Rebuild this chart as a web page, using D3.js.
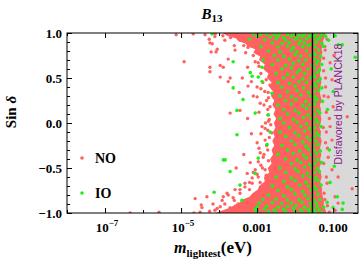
<!DOCTYPE html>
<html>
<head>
<meta charset="utf-8">
<script src="https://cdn.jsdelivr.net/npm/d3@7"></script>
<style>
body{margin:0;background:#fff;}
svg{display:block;}
text{font-family:"Liberation Serif","Times New Roman",serif;font-weight:bold;fill:#000;}
</style>
</head>
<body>
<svg id="chart" width="360" height="269"></svg>
<script>
// points are [log10(m_lightest / eV), sin delta]

// dense NO band: left and right edge (log10 m) for each sin delta
var coreSin = [1.0, 0.97, 0.94, 0.91, 0.88, 0.85, 0.82, 0.78, 0.74, 0.7, 0.65, 0.6, 0.55, 0.5, 0.45, 0.4, 0.35, 0.3, 0.25, 0.2, 0.15, 0.1, 0.05, 0,
  -0.05, -0.1, -0.15, -0.2, -0.25, -0.3, -0.35, -0.4, -0.45, -0.5, -0.55, -0.6, -0.65, -0.7, -0.74, -0.78, -0.82, -0.85, -0.88, -0.91, -0.94, -0.97, -1.0];
var coreLo = [-3.9, -3.8, -3.55, -3.5, -3.3, -3.25, -3.05, -3.1, -2.92, -2.95, -2.8, -2.84, -2.7, -2.74, -2.62, -2.68, -2.58, -2.64, -2.55, -2.6, -2.52, -2.57, -2.5, -2.56,
  -2.52, -2.58, -2.54, -2.6, -2.55, -2.62, -2.58, -2.66, -2.62, -2.72, -2.68, -2.82, -2.8, -2.95, -2.98, -3.12, -3.2, -3.38, -3.45, -3.6, -3.7, -3.9, -4.1];
var coreHi = [-1.2, -1.22, -1.24, -1.27, -1.25, -1.29, -1.3, -1.28, -1.33, -1.31, -1.34, -1.32, -1.35, -1.33, -1.31, -1.34, -1.36, -1.33, -1.3, -1.35, -1.32, -1.34, -1.31, -1.33,
  -1.36, -1.32, -1.34, -1.3, -1.33, -1.35, -1.31, -1.34, -1.32, -1.36, -1.33, -1.3, -1.34, -1.31, -1.29, -1.3, -1.27, -1.26, -1.24, -1.25, -1.22, -1.2, -1.18];

// scattered NO points
var noPoints = [
  [-5.13,0.98],[-4.68,0.99],[-4.37,0.98],[-4.24,0.89],[-4.18,0.88],[-4.21,0.79],[-4.08,0.79],[-4.92,0.68],
  [-4.24,0.62],[-4.24,0.57],[-4.11,0.96],[-4.26,0.93],[-3.89,0.62],[-3.71,0.50],[-3.97,0.51],[-3.76,0.71],
  [-3.39,0.50],[-3.24,0.41],[-3.47,0.34],[-3.00,0.29],[-3.71,0.11],[-3.45,0.14],[-2.92,0.22],[-2.71,0.09],
  [-2.79,-0.06],[-4.05,0.82],[-3.97,0.64],[-3.76,0.46],[-3.58,0.81],[-3.45,0.92],[-3.24,0.84],[-2.97,0.67],
  [-2.74,0.59],[-3.00,0.40],[-2.71,0.34],[-2.87,-0.04],[-2.79,-0.19],[-2.84,-0.38],[-2.79,-0.52],[-2.97,-0.60],
  [-3.13,-0.67],[-3.32,-0.71],[-3.58,-0.74],[-3.76,-0.80],[-3.92,-0.86],[-3.97,-0.93],
  [-4.63,-0.84],[-4.47,-0.91],[-4.32,-0.82],[-4.16,-0.90],[-4.11,-0.97],[-4.50,-0.99],[-4.66,-1.0],[-5.58,-0.99],
  [-6.34,-1.0],[-4.45,-0.94],[-3.89,-0.82],[-3.79,-0.78],[-3.45,-0.74],[-3.63,-0.83],[-3.71,-0.94],[-3.32,-0.67],
  [-3.13,-0.61],[-3.05,-0.52],[-2.97,-0.43],[-2.92,-0.33],[-3.18,-0.44],[-3.26,-0.56],[-3.00,-0.22],[-2.61,-0.11],
  [-2.9,0.55],[-2.85,0.45],[-2.8,0.35],[-2.75,0.25],[-2.72,0.15],[-2.7,0.02],[-2.72,-0.08],[-2.75,-0.25],
  [-2.82,-0.35],[-2.9,-0.47],[-3.0,-0.57],[-3.2,-0.66],[-3.45,-0.78],[-3.6,-0.86],[-3.85,-0.9],[-4.05,-0.95],
  [-4.25,-0.98],[-3.3,0.78],[-3.6,0.86],[-3.85,0.92],[-4.1,0.99],[-3.05,0.68],[-2.95,0.63],
  [-2.68,0.52],[-2.76,0.48],[-2.66,0.42],[-2.9,0.38],[-2.7,0.28],[-2.82,0.2],[-2.66,0.18],[-2.95,0.12],
  [-2.68,0.04],[-2.78,0.0],[-2.64,-0.02],[-2.9,-0.12],[-2.68,-0.16],[-2.72,-0.3],[-2.95,-0.28],[-2.7,-0.42],
  [-2.86,-0.5],[-2.76,-0.58],[-3.1,-0.55],[-2.92,-0.66],[-3.2,-0.74],[-3.05,-0.8],[-3.5,-0.9],[-3.7,-0.97],
  [-3.35,-0.88],[-2.75,0.72],[-2.9,0.78],[-3.1,0.75],[-3.35,0.86],[-3.1,0.88],[-3.7,0.95],[-3.9,0.97],
  [-2.65,0.66],[-3.25,0.62],[-3.15,0.46],[-3.1,0.3],[-3.25,0.05],[-3.15,-0.12],[-3.35,-0.35],[-3.55,-0.5],
  [-1.28,0.95],[-1.22,0.85],[-1.25,0.72],[-1.2,0.5],[-1.24,0.3],[-1.18,0.12],[-1.26,-0.05],[-1.2,-0.22],
  [-1.25,-0.45],[-1.18,-0.6],[-1.24,-0.78],[-1.15,-0.92],[-1.1,-0.99],[-1.21,0.81],[-1.08,0.67],[-1.03,0.48],
  [-1.13,0.29],[-1.0,0.18],[-1.08,-0.04],[-1.03,-0.19],[-1.13,-0.38],[-1.03,-0.52],[-1.16,-0.67],[-0.95,-0.82],
  [-0.87,-0.60],[-0.63,0.07],[-0.50,-0.73],[-0.87,-0.89],[-0.95,-0.97],[-1.16,0.93],[-1.2,0.40],[-1.18,-0.10],
  [-1.22,-0.85],[-1.1,0.05],[-0.98,0.75],[-1.25,0.58],[-1.15,-0.28]
];

// IO points
var ioPoints = [
  [-4.18,0.99],[-3.63,0.68],[-3.18,0.56],[-2.87,0.46],[-3.37,0.26],[-3.53,0.14],[-3.05,0.11],[-3.53,-0.13],
  [-2.74,-0.24],[-3.84,-0.41],[-3.71,-0.54],[-2.97,-0.39],[-3.45,-0.69],[-3.05,-0.56],[-2.66,-0.10],[-2.71,0.09],
  [-2.61,0.33],[-2.87,0.62],[-2.97,0.51],[-3.63,0.39],[-3.13,0.52],[-2.84,0.70],[-4.13,-0.77],[-3.89,-0.41],[-3.4,-0.86],
  [-3.1,0.99],[-2.9,0.985],[-2.75,0.99],[-2.55,0.98],[-2.4,0.995],[-2.2,0.985],[-2.05,0.99],[-1.9,0.975],[-1.75,0.99],[-1.6,0.98],[-1.45,0.99],[-1.3,0.985],
  [-3.0,0.96],[-2.65,0.955],[-2.45,0.965],[-2.3,0.95],[-2.1,0.96],[-1.95,0.945],[-1.8,0.965],[-1.62,0.955],[-1.5,0.96],[-1.35,0.95],[-1.2,0.965],
  [-3.2,0.93],[-2.8,0.925],[-2.5,0.935],[-2.25,0.92],[-2.0,0.93],[-1.85,0.915],[-1.7,0.935],[-1.52,0.925],[-1.4,0.93],
  [-2.6,0.89],[-2.35,0.885],[-2.15,0.895],[-1.9,0.88],[-1.75,0.89],[-1.58,0.875],[-1.45,0.895],[-1.3,0.885],
  [-2.9,0.85],[-2.45,0.845],[-2.2,0.855],[-2.05,0.84],[-1.8,0.85],[-1.65,0.86],[-1.48,0.845],[-1.25,0.85],
  [-2.7,0.80],[-2.4,0.79],[-2.1,0.81],[-1.95,0.795],[-1.7,0.80],[-1.52,0.785],[-1.38,0.81],
  [-2.55,0.75],[-2.3,0.74],[-2.0,0.76],[-1.85,0.745],[-1.6,0.75],[-1.47,0.76],[-1.33,0.74],
  [-2.45,0.70],[-2.15,0.71],[-1.9,0.69],[-1.72,0.70],[-1.5,0.71],[-1.4,0.69],
  [-2.6,0.65],[-2.25,0.64],[-2.05,0.66],[-1.8,0.65],[-1.55,0.64],[-1.44,0.66],[-1.3,0.65],
  [-2.35,0.60],[-2.1,0.61],[-1.88,0.59],[-1.66,0.60],[-1.5,0.61],[-1.36,0.59],
  [-2.5,0.55],[-2.2,0.54],[-1.95,0.56],[-1.75,0.55],[-1.52,0.54],[-1.42,0.56],
  [-2.3,0.50],[-2.05,0.51],[-1.8,0.49],[-1.6,0.50],[-1.48,0.51],[-1.34,0.49],
  [-2.45,0.45],[-2.15,0.44],[-1.9,0.46],[-1.7,0.45],[-1.5,0.44],[-1.4,0.46],
  [-2.35,0.40],[-2.0,0.41],[-1.78,0.39],[-1.56,0.40],[-1.45,0.41],[-1.3,0.39],
  [-2.2,0.35],[-1.95,0.36],[-1.65,0.34],[-1.5,0.35],[-1.38,0.36],
  [-2.4,0.30],[-2.1,0.29],[-1.85,0.31],[-1.6,0.30],[-1.47,0.29],
  [-2.25,0.25],[-1.98,0.26],[-1.72,0.24],[-1.52,0.25],[-1.42,0.26],[-1.28,0.24],
  [-2.45,0.20],[-2.1,0.21],[-1.8,0.19],[-1.62,0.20],[-1.48,0.21],
  [-2.3,0.15],[-2.0,0.14],[-1.7,0.16],[-1.53,0.15],[-1.4,0.14],
  [-2.2,0.10],[-1.9,0.11],[-1.66,0.09],[-1.5,0.10],[-1.35,0.11],
  [-2.4,0.05],[-2.05,0.04],[-1.78,0.06],[-1.58,0.05],[-1.45,0.04],
  [-2.3,0.00],[-1.95,0.01],[-1.7,-0.01],[-1.52,0.00],[-1.4,0.01],
  [-2.15,-0.05],[-1.85,-0.04],[-1.62,-0.06],[-1.48,-0.05],[-1.32,-0.04],
  [-2.4,-0.10],[-2.0,-0.11],[-1.75,-0.09],[-1.55,-0.10],[-1.43,-0.11],
  [-2.25,-0.15],[-1.9,-0.14],[-1.68,-0.16],[-1.5,-0.15],[-1.38,-0.14],
  [-2.1,-0.20],[-1.8,-0.21],[-1.6,-0.19],[-1.46,-0.20],
  [-2.35,-0.25],[-2.0,-0.24],[-1.72,-0.26],[-1.53,-0.25],[-1.4,-0.24],
  [-2.2,-0.30],[-1.88,-0.31],[-1.65,-0.29],[-1.5,-0.30],[-1.34,-0.31],
  [-2.45,-0.35],[-2.05,-0.34],[-1.78,-0.36],[-1.57,-0.35],[-1.44,-0.34],
  [-2.25,-0.40],[-1.95,-0.41],[-1.7,-0.39],[-1.52,-0.40],[-1.4,-0.41],
  [-2.1,-0.45],[-1.85,-0.44],[-1.62,-0.46],[-1.48,-0.45],[-1.3,-0.44],
  [-2.4,-0.50],[-2.0,-0.51],[-1.75,-0.49],[-1.56,-0.50],[-1.42,-0.51],
  [-2.25,-0.55],[-1.92,-0.54],[-1.68,-0.56],[-1.5,-0.55],[-1.36,-0.54],
  [-2.5,-0.60],[-2.1,-0.61],[-1.8,-0.59],[-1.6,-0.60],[-1.46,-0.61],
  [-2.3,-0.65],[-2.0,-0.64],[-1.72,-0.66],[-1.53,-0.65],[-1.4,-0.64],
  [-2.6,-0.70],[-2.2,-0.71],[-1.88,-0.69],[-1.65,-0.70],[-1.5,-0.71],[-1.32,-0.69],
  [-2.45,-0.75],[-2.1,-0.74],[-1.8,-0.76],[-1.58,-0.75],[-1.44,-0.74],
  [-2.7,-0.80],[-2.3,-0.81],[-2.0,-0.79],[-1.74,-0.80],[-1.55,-0.81],[-1.4,-0.79],
  [-2.85,-0.85],[-2.5,-0.845],[-2.2,-0.855],[-1.9,-0.85],[-1.66,-0.84],[-1.5,-0.855],[-1.35,-0.85],
  [-2.95,-0.89],[-2.6,-0.885],[-2.35,-0.895],[-2.1,-0.89],[-1.82,-0.88],[-1.6,-0.895],[-1.45,-0.89],
  [-3.0,-0.93],[-2.75,-0.925],[-2.45,-0.935],[-2.2,-0.93],[-1.98,-0.92],[-1.75,-0.935],[-1.56,-0.93],[-1.42,-0.925],[-1.25,-0.935],
  [-3.05,-0.96],[-2.8,-0.955],[-2.55,-0.965],[-2.3,-0.96],[-2.05,-0.95],[-1.85,-0.965],[-1.65,-0.96],[-1.52,-0.955],[-1.38,-0.965],
  [-3.0,-0.99],[-2.7,-0.985],[-2.5,-0.995],[-2.25,-0.99],[-2.0,-0.98],[-1.8,-0.995],[-1.62,-0.99],[-1.48,-0.985],[-1.3,-0.995],
  [-0.87,0.87],[-0.76,0.87],[-0.42,0.73],[-0.89,-0.82],[-0.74,-0.89],[-0.76,-0.96],[-1.0,-0.94],[-1.16,-0.88],
  [-0.95,0.97],[-1.05,0.60],[-1.1,-0.3],[-0.97,-0.48],[-1.0,0.35],[-1.12,0.92],[-1.08,-0.66],[-1.15,0.15]
];

var planckLimit = 0.0285;   // eV, lightest mass bound from PLANCK18
var xDomain = [1e-8, 0.45];
var xMajorTicks = [1e-7, 1e-5, 1e-3, 1e-1];
var xMajorLabels = [["10", "\u22127"], ["10", "\u22125"], ["0.001", ""], ["0.100", ""]];
var xMinorTicks = [1e-8, 1e-6, 1e-4, 1e-2];
var yMajorTicks = [-1, -0.5, 0, 0.5, 1];
var yMajorLabels = ["\u22121.0", "\u22120.5", "0.0", "0.5", "1.0"];
var yMinorTicks = [-0.9, -0.8, -0.7, -0.6, -0.4, -0.3, -0.2, -0.1, 0.1, 0.2, 0.3, 0.4, 0.6, 0.7, 0.8, 0.9];
var legendItems = [{name: "NO", color: "#ff6060"}, {name: "IO", color: "#1ef01e"}];

var svg = d3.select('#chart');
var pL = 67, pR = 358, pT = 33, pB = 213;

var x = d3.scaleLog().domain(xDomain).range([pL, pR]);
var y = d3.scaleLinear().domain([-1, 1]).range([pB, pT]);
var lx = function(v){ return x(Math.pow(10, v)); };

svg.append('defs').append('clipPath').attr('id', 'plotClip')
  .append('rect').attr('x', pL).attr('y', pT).attr('width', pR - pL).attr('height', pB - pT);

var plot = svg.append('g').attr('clip-path', 'url(#plotClip)');

// disfavoured region
plot.append('rect')
  .attr('x', x(planckLimit)).attr('y', pT)
  .attr('width', pR - x(planckLimit)).attr('height', pB - pT)
  .attr('fill', '#d9d9d9');

// dense NO band
var core = coreSin.map(function(s, i){ return {s: s, lo: coreLo[i], hi: coreHi[i]}; });
plot.append('path')
  .datum(core)
  .attr('fill', legendItems[0].color)
  .attr('d', d3.area()
    .y(function(d){ return y(d.s); })
    .x0(function(d){ return lx(d.lo); })
    .x1(function(d){ return lx(d.hi); }));

plot.selectAll('circle.no').data(noPoints).enter().append('circle')
  .attr('class', 'no')
  .attr('cx', function(d){ return lx(d[0]); })
  .attr('cy', function(d){ return y(d[1]); })
  .attr('r', 1.7)
  .attr('fill', legendItems[0].color);

plot.selectAll('circle.io').data(ioPoints).enter().append('circle')
  .attr('class', 'io')
  .attr('cx', function(d){ return lx(d[0]); })
  .attr('cy', function(d){ return y(d[1]); })
  .attr('r', 1.8)
  .attr('fill', legendItems[1].color);

// planck line
plot.append('line')
  .attr('x1', x(planckLimit)).attr('x2', x(planckLimit))
  .attr('y1', pT).attr('y2', pB)
  .attr('stroke', '#000').attr('stroke-width', 1.4);

svg.append('text')
  .attr('transform', 'translate(342,104) rotate(-90)')
  .attr('text-anchor', 'middle')
  .style('font-family', '"Liberation Sans", Arial, sans-serif')
  .style('font-weight', 'normal')
  .style('font-size', '10.5px')
  .style('fill', '#8b1a8b')
  .text('Disfavored by PLANCK18');

// ticks, all inward
function ticks(axisFn, scale, vals, size, tr){
  svg.append('g').attr('transform', tr)
    .call(axisFn(scale).tickValues(vals).tickSize(size).tickFormat(''))
    .call(function(g){ g.select('.domain').remove(); g.selectAll('line').attr('stroke', '#000'); });
}
ticks(d3.axisBottom, x, xMajorTicks, -5, 'translate(0,' + pB + ')');
ticks(d3.axisBottom, x, xMinorTicks, -3, 'translate(0,' + pB + ')');
ticks(d3.axisTop, x, xMajorTicks, -5, 'translate(0,' + pT + ')');
ticks(d3.axisTop, x, xMinorTicks, -3, 'translate(0,' + pT + ')');
ticks(d3.axisLeft, y, yMajorTicks, -5, 'translate(' + pL + ',0)');
ticks(d3.axisLeft, y, yMinorTicks, -3, 'translate(' + pL + ',0)');
ticks(d3.axisRight, y, yMajorTicks, -5, 'translate(' + pR + ',0)');
ticks(d3.axisRight, y, yMinorTicks, -3, 'translate(' + pR + ',0)');

svg.append('rect')
  .attr('x', pL).attr('y', pT).attr('width', pR - pL).attr('height', pB - pT)
  .attr('fill', 'none').attr('stroke', '#000').attr('stroke-width', 1);

// tick labels
svg.selectAll('text.ylab').data(yMajorTicks).enter().append('text')
  .attr('class', 'ylab')
  .attr('x', pL - 5)
  .attr('y', function(d){ return y(d) + 4.5; })
  .attr('text-anchor', 'end')
  .style('font-size', '13px')
  .text(function(d, i){ return yMajorLabels[i]; });

var xl = svg.selectAll('text.xlab').data(xMajorTicks).enter().append('text')
  .attr('class', 'xlab')
  .attr('x', function(d, i){ return x(d) + (xMajorLabels[i][1] ? 2 : 0); })
  .attr('y', 232)
  .attr('text-anchor', 'middle')
  .style('font-size', '13px');
xl.append('tspan').text(function(d, i){ return xMajorLabels[i][0]; });
xl.append('tspan')
  .attr('dy', -6)
  .style('font-size', '9px')
  .text(function(d, i){ return xMajorLabels[i][1]; });

// title
var title = svg.append('text').attr('x', 212).attr('y', 19).attr('text-anchor', 'middle');
title.append('tspan').style('font-style', 'italic').style('font-size', '15px').text('B');
title.append('tspan').attr('dy', 3).style('font-size', '11px').text('13');

// axis titles
var xt = svg.append('text').attr('x', 213).attr('y', 253).attr('text-anchor', 'middle');
xt.append('tspan').style('font-style', 'italic').style('font-size', '16px').text('m');
xt.append('tspan').attr('dy', 4).style('font-size', '11px').text('lightest');
xt.append('tspan').attr('dy', -4).style('font-size', '17px').text('(eV)');

var yt = svg.append('text')
  .attr('transform', 'translate(16,112) rotate(-90)')
  .attr('text-anchor', 'middle')
  .style('font-size', '15px');
yt.append('tspan').text('Sin ');
yt.append('tspan').style('font-style', 'italic').text('\u03b4');

// legend
var leg = svg.selectAll('g.leg').data(legendItems).enter().append('g')
  .attr('class', 'leg')
  .attr('transform', function(d, i){ return 'translate(82,' + (158 + i * 35) + ')'; });
leg.append('circle').attr('r', 1.8).attr('fill', function(d){ return d.color; });
leg.append('text').attr('x', 13).attr('y', 5).style('font-size', '14px').text(function(d){ return d.name; });
</script>
</body>
</html>
